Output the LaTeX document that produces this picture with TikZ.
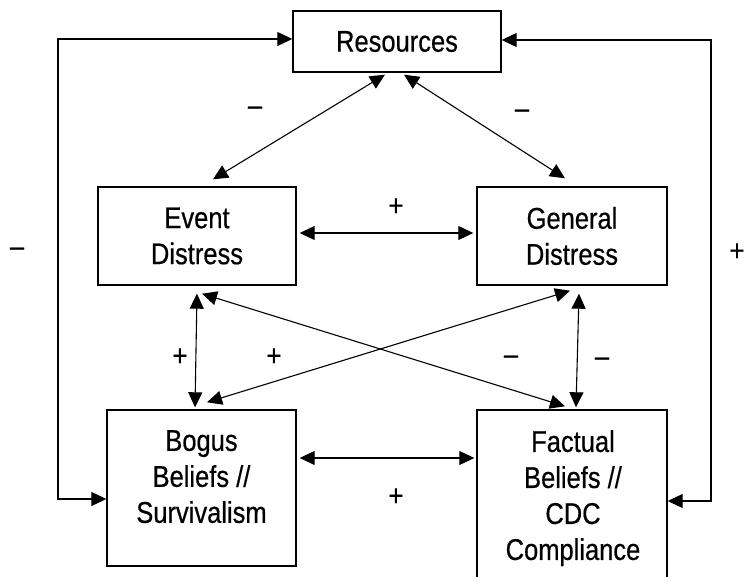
\documentclass[tikz,border=0pt]{standalone}
\usepackage{fontspec}
\setmainfont{Liberation Sans}[FakeStretch=0.85,FakeBold=0.5]
\usetikzlibrary{arrows.meta}
\begin{document}
\begin{tikzpicture}[x=1pt,y=-1pt,
  box/.style={draw=black, line width=1.4pt, rectangle, inner sep=0pt, align=center, font=\fontsize{30}{36}\selectfont},
  txt/.style={inner sep=0pt, align=center, font=\fontsize{30}{36}\selectfont},
  lbl/.style={inner sep=0pt, font=\fontsize{30}{36}\selectfont},
  link/.style={line width=1.1pt, {Triangle[length=15pt,width=14pt]}-{Triangle[length=15pt,width=14pt]}}]
\clip (0,0) rectangle (745,577);
% boxes
\node[box, minimum width=208pt, minimum height=61pt] (res) at (397,41.5) {Resources};
\node[box, minimum width=198pt, minimum height=98pt] (ed) at (197,236) {Event\\Distress};
\node[box, minimum width=190pt, minimum height=98pt] (gd) at (572,236) {General\\Distress};
\node[box, minimum width=189pt, minimum height=156pt] (bb) at (201.5,488) {};
\node[box, minimum width=190pt, minimum height=200pt] (fb) at (572,510) {};
\node[txt, anchor=north] (bbt) at (201.5,430) {Bogus\\Beliefs //\\Survivalism};
\node[txt, anchor=north] (fbt) at (573,430) {Factual\\Beliefs //\\CDC\\Compliance};
% loop coordinates
\coordinate (lt) at (58,39);
\coordinate (lb) at (58,499);
\coordinate (rt) at (711,40);
\coordinate (rb) at (711,501);
% connectors
\draw[link] ([yshift=2.5pt]res.west) -- (lt) -- (lb) -- (bb.west |- lb);
\draw[link] ([yshift=1.5pt]res.east) -- (rt) -- (rb) -- (fb.east |- rb);
\draw[link] ([xshift=-12pt,yshift=-2pt]res.south) -- ([xshift=16pt,yshift=7pt]ed.north);
\draw[link] ([xshift=7pt,yshift=-2pt]res.south) -- ([xshift=-7pt,yshift=8pt]gd.north);
\draw[link] ([xshift=3pt,yshift=3pt]ed.east) -- ([xshift=-3pt,yshift=3pt]gd.west);
\draw[link] ([yshift=-8pt]ed.south) -- ([xshift=-6.5pt,yshift=2pt]bb.north);
\draw[link] ([xshift=7pt,yshift=-8pt]gd.south) -- ([xshift=4pt,yshift=2pt]fb.north);
\draw[link] ([xshift=5pt,yshift=-8pt]ed.south) -- ([xshift=-7pt,yshift=3pt]fb.north);
\draw[link] ([xshift=-2pt,yshift=-5pt]gd.south) -- ([xshift=5.5pt,yshift=7pt]bb.north);
\draw[link] ([xshift=3pt,yshift=30pt]bb.east) -- ([xshift=-2pt,yshift=30pt]bb.east -| fb.west);
% labels
\node[lbl] (l1) at (255,111) {–};
\node[lbl] (l2) at (522,114) {–};
\node[lbl] (l3) at (396,207) {+};
\node[lbl] (l4) at (17,252) {–};
\node[lbl] (l5) at (737,252) {+};
\node[lbl] (l6) at (180,357) {+};
\node[lbl] (l7) at (274,357) {+};
\node[lbl] (l8) at (511,360) {–};
\node[lbl] (l9) at (602,362) {–};
\node[lbl] (l10) at (396,497) {+};
\end{tikzpicture}
\end{document}
